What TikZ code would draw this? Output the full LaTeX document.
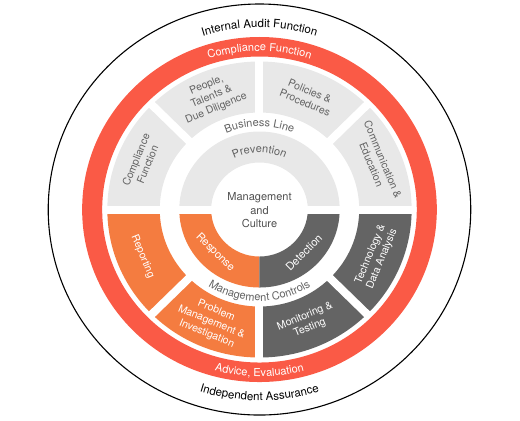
\documentclass[tikz,border=0pt]{standalone}
\usepackage{fontspec}
\setmainfont{TeX Gyre Heros}
\usetikzlibrary{decorations.text}

\definecolor{auditred}{HTML}{FA5A46}
\definecolor{segorange}{HTML}{F47C40}
\definecolor{segdark}{HTML}{646464}
\definecolor{seglight}{HTML}{E8E8E8}
\definecolor{labelgray}{HTML}{636363}

\begin{document}
\begin{tikzpicture}
    [
        x=1.028pt, y=1pt,
        gap/.style={draw=white, line width=8pt},
        seglabel/.style={align=center, font=\fontsize{10.5}{12.5}\selectfont, inner sep=0pt},
        greylabel/.style={seglabel, text=labelgray},
        whitelabel/.style={seglabel, text=white},
        arclabel/.style={decorate, decoration={text along path, text align=center, text={#1}}}
    ]
        \useasboundingbox (-252.4,-210.5) rectangle (253.4,209.5);
        % =========================================================================
        % RINGS
        % =========================================================================
        % --- Internal audit ---
        \draw [line width=1.1pt] (0,0) circle [radius=205.5];
        % --- Compliance function ---
        \fill [auditred, even odd rule] (0,0) circle [radius=172.5] (0,0) circle [radius=153];
        % --- Business line segments ---
        \fill [seglight] (0:148) arc [start angle=0, end angle=180, radius=148]
            -- (180:97) arc [start angle=180, end angle=0, radius=97] -- cycle;
        \fill [segorange] (180:148) arc [start angle=180, end angle=270, radius=148]
            -- (270:97) arc [start angle=270, end angle=180, radius=97] -- cycle;
        \fill [segdark] (270:148) arc [start angle=270, end angle=360, radius=148]
            -- (360:97) arc [start angle=360, end angle=270, radius=97] -- cycle;
        % --- Prevention / Response / Detection ---
        \fill [seglight] (0:78) arc [start angle=0, end angle=180, radius=78]
            -- (180:47) arc [start angle=180, end angle=0, radius=47] -- cycle;
        \fill [segorange] (180:78) arc [start angle=180, end angle=270, radius=78]
            -- (270:47) arc [start angle=270, end angle=180, radius=47] -- cycle;
        \fill [segdark] (270:78) arc [start angle=270, end angle=360, radius=78]
            -- (360:47) arc [start angle=360, end angle=270, radius=47] -- cycle;
        % --- gaps ---
        \foreach \a in {0,45,...,315}
            \draw [gap] (\a:95) -- (\a:150);
        \draw [gap] (180:80) -- (0:80);

        % =========================================================================
        % CURVED TEXTS
        % =========================================================================
        \path [arclabel={|\fontsize{11.5}{13}\selectfont|Internal Audit Function}]
            (150:182) arc [start angle=150, end angle=30, radius=182];
        \path [arclabel={|\fontsize{11.5}{13}\selectfont|Independent Assurance}]
            (210:191) arc [start angle=210, end angle=330, radius=191];
        \path [arclabel={|\fontsize{11}{13}\selectfont\color{white}|Compliance Function}]
            (150:158.5) arc [start angle=150, end angle=30, radius=158.5];
        \path [arclabel={|\fontsize{11}{13}\selectfont\color{white}|Advice, Evaluation}]
            (210:167) arc [start angle=210, end angle=330, radius=167];
        \path [arclabel={|\fontsize{11}{13}\selectfont\color{labelgray}|Business Line}]
            (160:83) arc [start angle=160, end angle=20, radius=83];
        \path [arclabel={|\fontsize{11}{13}\selectfont\color{labelgray}|Management Controls}]
            (200:91.5) arc [start angle=200, end angle=340, radius=91.5];
        \path [arclabel={|\fontsize{11}{13}\selectfont\color{labelgray}|Prevention}]
            (160:57) arc [start angle=160, end angle=20, radius=57];

        % =========================================================================
        % NODES
        % =========================================================================
        % --- Upper half ---
        \node [greylabel, rotate=67.5] (compliance) at (157.5:124) {Compliance\\Function};
        \node [greylabel, rotate=22.5] (people) at (112.5:122) {People,\\Talents \&\\Due Diligence};
        \node [greylabel, rotate=-22.5] (policies) at (67.5:122) {Policies \&\\Procedures};
        \node [greylabel, rotate=-67.5] (communication) at (22.5:124) {Communication \&\\Education};
        % --- Lower half ---
        \node [whitelabel, rotate=-67.5] (reporting) at (202.5:123) {Reporting};
        \node [whitelabel, rotate=-22.5] (problem) at (247.5:122) {Problem\\Management \&\\Investigation};
        \node [whitelabel, rotate=22.5] (monitoring) at (292.5:122) {Monitoring \&\\Testing};
        \node [whitelabel, rotate=67.5] (technology) at (337.5:123) {Technology \&\\Data Analysis};
        % --- Middle ring ---
        \node [whitelabel, font=\fontsize{11}{12}\selectfont, rotate=-45] (response) at (225:61) {Response};
        \node [whitelabel, font=\fontsize{11}{12}\selectfont, rotate=45] (detection) at (315:61) {Detection};
        % --- Centre ---
        \node [align=center, text=labelgray!80!black, font=\fontsize{11}{13.5}\selectfont] (culture) at (0,-1)
            {Management\\and\\Culture};
\end{tikzpicture}
\end{document}
